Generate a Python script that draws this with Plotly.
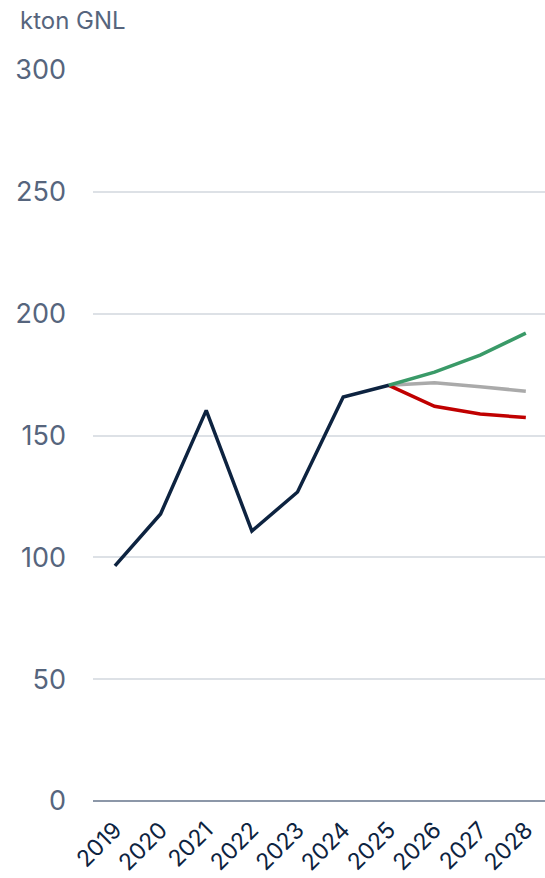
import plotly.graph_objects as go

years = ["2019", "2020", "2021", "2022", "2023", "2024", "2025", "2026", "2027", "2028"]
historic_years = ["2019", "2020", "2021", "2022", "2023", "2024", "2025"]
historic = [96.5, 117.8, 160.3, 110.8, 126.8, 165.8, 170.6]
scenario_years = ["2025", "2026", "2027", "2028"]
high = [170.6, 176.0, 183.0, 192.0]
mid = [170.6, 171.6, 170.0, 168.2]
low = [170.6, 162.0, 158.8, 157.4]

NAVY = "#0d2340"
SLATE = "#56657d"

fig = go.Figure()
for ys, col in [(mid, "#aaaaaa"), (low, "#c00000"), (high, "#3a9a68")]:
    fig.add_trace(go.Scatter(x=scenario_years, y=ys, mode="lines",
                             line=dict(color=col, width=3.5), showlegend=False))
fig.add_trace(go.Scatter(x=historic_years, y=historic, mode="lines",
                         line=dict(color=NAVY, width=3.5), showlegend=False))

fig.update_layout(
    width=545, height=878,
    margin=dict(l=93, r=0, t=70, b=77),
    paper_bgcolor="white", plot_bgcolor="white",
    font=dict(family="Inter, sans-serif"),
    xaxis=dict(type="category", categoryorder="array", categoryarray=years,
               range=[-0.48, 9.42], tickangle=-45, showgrid=False,
               tickfont=dict(size=23, color=NAVY), ticks="", showline=False,
               ticklabelstandoff=10),
    yaxis=dict(range=[0, 300], tickvals=[0, 50, 100, 150, 200, 250, 300],
               showgrid=True, gridcolor="#dde1e6", gridwidth=1.5,
               zeroline=True, zerolinecolor="#8c97a8", zerolinewidth=1.5,
               tickfont=dict(size=27, color=SLATE), ticklabelstandoff=26),
    annotations=[dict(text="kton GNL", xref="paper", yref="paper",
                      x=-93/452 + 18/452, y=1 + 49/731,
                      xanchor="left", yanchor="middle", showarrow=False,
                      font=dict(size=24, color=SLATE))],
)

fig.write_html("out.html")
